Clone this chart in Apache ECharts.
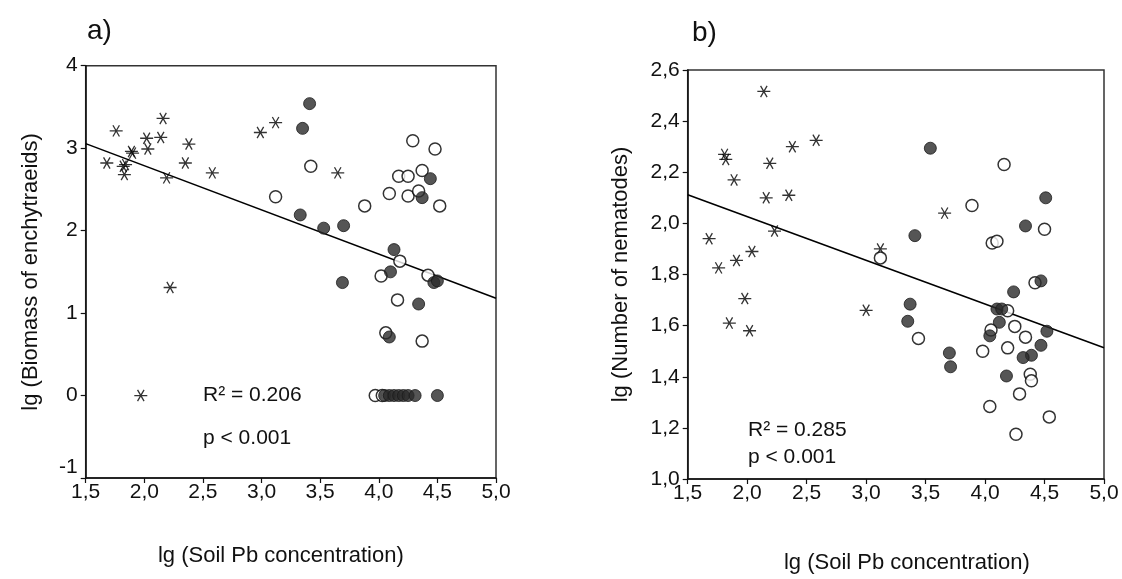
<!DOCTYPE html>
<html>
<head>
<meta charset="utf-8">
<script src="https://cdn.jsdelivr.net/npm/echarts@6/dist/echarts.min.js"></script>
<style>
  html, body { margin: 0; padding: 0; background: #fff; }
  #main { width: 1122px; height: 579px; }
</style>
</head>
<body>
<div id="main"></div>
<script>
// panel a: lg Pb vs lg biomass of enchytraeids
var starsA = [[1.68,2.82],[1.76,3.21],[1.82,2.78],[1.83,2.68],[1.84,2.80],[1.89,2.96],[1.90,2.94],
    [2.02,3.12],[2.03,2.99],[2.14,3.13],[2.16,3.36],[2.19,2.64],[2.35,2.82],[2.38,3.05],[2.58,2.70],
    [2.99,3.19],[3.12,3.31],[3.65,2.70],[2.22,1.31],[1.97,0.0]];
var hollowA = [[3.12,2.41],[3.42,2.78],[3.88,2.30],[4.29,3.09],[4.48,2.99],[4.17,2.66],[4.25,2.66],
    [4.37,2.73],[4.09,2.45],[4.25,2.42],[4.34,2.48],[4.52,2.30],[4.18,1.63],[4.02,1.45],[4.42,1.46],
    [4.16,1.16],[4.06,0.76],[4.37,0.66],[3.97,0.0],[4.03,0.0]];
var filledA = [[3.41,3.54],[3.35,3.24],[4.44,2.63],[4.37,2.40],[3.33,2.19],[3.53,2.03],[3.70,2.06],
    [4.13,1.77],[4.10,1.50],[4.47,1.37],[4.50,1.39],[3.69,1.37],[4.34,1.11],[4.09,0.71],
    [4.05,0],[4.09,0],[4.13,0],[4.17,0],[4.21,0],[4.25,0],[4.31,0],[4.50,0]];
var fitA = [[1.5,3.055],[5.0,1.18]];

// panel b: lg Pb vs lg number of nematodes
var starsB = [[2.14,2.516],[1.81,2.27],[1.82,2.25],[1.89,2.17],[2.19,2.235],[2.38,2.30],[2.58,2.325],
    [2.16,2.10],[2.35,2.11],[2.23,1.97],[1.68,1.94],[1.91,1.855],[2.04,1.89],[1.76,1.826],
    [1.98,1.706],[1.85,1.61],[2.02,1.58],[3.66,2.04],[3.12,1.90],[3.00,1.66]];
var hollowB = [[4.16,2.23],[3.89,2.07],[4.50,1.977],[4.06,1.923],[4.10,1.93],[3.12,1.865],[3.44,1.55],
    [4.42,1.768],[4.19,1.658],[4.05,1.583],[4.25,1.597],[4.34,1.555],[3.98,1.50],[4.19,1.513],
    [4.38,1.41],[4.39,1.384],[4.29,1.333],[4.04,1.284],[4.54,1.243],[4.26,1.175]];
var filledB = [[3.54,2.294],[4.51,2.10],[4.34,1.99],[3.41,1.952],[3.37,1.684],[3.35,1.617],[3.70,1.493],
    [3.71,1.439],[4.24,1.732],[4.47,1.775],[4.10,1.665],[4.14,1.665],[4.12,1.613],[4.04,1.56],
    [4.52,1.578],[4.47,1.523],[4.39,1.484],[4.32,1.475],[4.18,1.403]];
var fitB = [[1.5,2.112],[5.0,1.513]];

var statsA = ['R² = 0.206', 'p < 0.001'];
var statsB = ['R² = 0.285', 'p < 0.001'];

var FONT = 'Liberation Sans, Arial, sans-serif';
var STAR = 'path://M0,6L12,6M3,0.8L9,11.2M9,0.8L3,11.2';

function comma(v) {
    return v.toFixed(1).replace('.', ',');
}

function xAxisOf(idx) {
    return {
        gridIndex: idx, type: 'value', min: 1.5, max: 5, interval: 0.5,
        name: 'lg (Soil Pb concentration)', nameLocation: 'middle',
        nameGap: idx === 0 ? 67 : 73,
        // left title sits a bit left of centre, right one a bit right
        nameTextStyle: { fontFamily: FONT, fontSize: 22, color: '#111',
            padding: idx === 0 ? [0, 20, 0, 0] : [0, 0, 0, 22] },
        axisLine: { show: true, onZero: false, lineStyle: { color: '#111', width: 1.5 } },
        axisTick: { show: true, length: 5, lineStyle: { color: '#111', width: 1.2 } },
        axisLabel: { fontFamily: FONT, fontSize: 21, color: '#111', margin: 4, formatter: comma },
        splitLine: { show: false }
    };
}

function yAxisOf(idx) {
    var a = {
        gridIndex: idx, type: 'value', nameLocation: 'middle', nameRotate: 90,
        nameTextStyle: { fontFamily: FONT, fontSize: 22, color: '#111' },
        axisLine: { show: true, onZero: false, lineStyle: { color: '#111', width: 1.5 } },
        axisTick: { show: true, length: 5, lineStyle: { color: '#111', width: 1.2 } },
        axisLabel: { fontFamily: FONT, fontSize: 21, color: '#111', margin: 8 },
        splitLine: { show: false }
    };
    if (idx === 0) {
        a.min = -1; a.max = 4; a.interval = 1;
        a.name = 'lg (Biomass of enchytraeids)';
        a.nameGap = 44;
        // the lowest label is lifted off its tick in the original
        a.axisLabel.formatter = function (v) {
            return v === -1 ? '{up|-1}' : String(v);
        };
        a.axisLabel.rich = { up: { fontFamily: FONT, fontSize: 21, color: '#111', padding: [0, 0, 22, 0] } };
    } else {
        a.min = 1.0; a.max = 2.6; a.interval = 0.2;
        a.name = 'lg (Number of nematodes)';
        a.nameGap = 56;
        a.axisLabel.formatter = comma;
    }
    return a;
}

function pointSeries(idx, data, kind) {
    var s = { type: 'scatter', xAxisIndex: idx, yAxisIndex: idx, data: data, silent: true };
    if (kind === 'star') {
        s.symbol = STAR;
        s.symbolSize = 13;
        s.symbolKeepAspect = true;
        s.itemStyle = { color: 'rgba(0,0,0,0)', borderColor: '#000', borderWidth: 1.3 };
    } else if (kind === 'hollow') {
        s.symbol = 'circle';
        s.symbolSize = 12;
        s.itemStyle = { color: '#fff', borderColor: '#000', borderWidth: 1.5 };
    } else {
        s.symbol = 'circle';
        s.symbolSize = 12;
        s.itemStyle = { color: '#2a2a2a', borderColor: '#1a1a1a', borderWidth: 1 };
    }
    return s;
}

function fitSeries(idx, data) {
    return {
        type: 'line', xAxisIndex: idx, yAxisIndex: idx, data: data,
        symbol: 'none', silent: true, z: 1,
        lineStyle: { color: '#000', width: 1.6 }
    };
}

function statText(left, top, lines, gap) {
    return lines.map(function (t, i) {
        return {
            type: 'text', left: left, top: top + i * gap,
            style: { text: t, font: '21px ' + FONT, fill: '#111' }
        };
    });
}

var myChart = echarts.init(document.getElementById('main'));

var option = {
    backgroundColor: '#fff',
    animation: false,
    title: [
        { text: 'a)', left: 82, top: 12, textStyle: { fontFamily: FONT, fontSize: 28, fontWeight: 'normal', color: '#111' } },
        { text: 'b)', left: 687, top: 14, textStyle: { fontFamily: FONT, fontSize: 28, fontWeight: 'normal', color: '#111' } }
    ],
    grid: [
        { left: 85.7, top: 65.7, width: 410.3, height: 412.3, show: true, borderColor: '#333', borderWidth: 1.5, backgroundColor: 'transparent' },
        { left: 687.7, top: 70, width: 416.3, height: 413.5, show: true, borderColor: '#333', borderWidth: 1.5, backgroundColor: 'transparent' }
    ],
    xAxis: [xAxisOf(0), xAxisOf(1)],
    yAxis: [yAxisOf(0), yAxisOf(1)],
    series: [
        fitSeries(0, fitA),
        pointSeries(0, starsA, 'star'),
        pointSeries(0, hollowA, 'hollow'),
        pointSeries(0, filledA, 'filled'),
        fitSeries(1, fitB),
        pointSeries(1, starsB, 'star'),
        pointSeries(1, hollowB, 'hollow'),
        pointSeries(1, filledB, 'filled')
    ],
    graphic: statText(203, 385, statsA, 43).concat(statText(748, 420, statsB, 27))
};

myChart.setOption(option);
</script>
</body>
</html>
